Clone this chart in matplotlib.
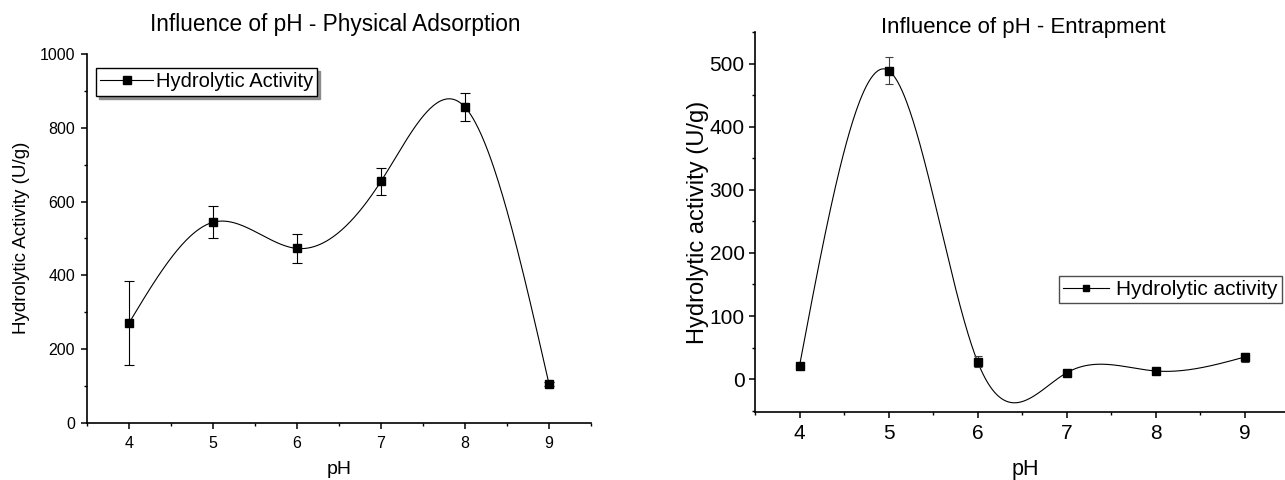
import numpy as np
import matplotlib
matplotlib.use('Agg')
import matplotlib.pyplot as plt
from matplotlib.lines import Line2D
from matplotlib.ticker import MultipleLocator

plt.rcParams.update({
    'font.family': ['Liberation Sans', 'DejaVu Sans'],
    'axes.linewidth': 1.2,
    'xtick.direction': 'out',
    'ytick.direction': 'out',
    'xtick.major.size': 4.5,
    'ytick.major.size': 4.5,
    'xtick.minor.size': 2.5,
    'ytick.minor.size': 2.5,
    'xtick.major.width': 1.1,
    'ytick.major.width': 1.1,
    'xtick.minor.width': 1.0,
    'ytick.minor.width': 1.0,
})

# ─── data ────────────────────────────────────────────────────────────────────
ph = [4, 5, 6, 7, 8, 9]

ads_activity = [271, 544, 473, 655, 856, 106]
ads_err = [113, 44, 39, 37, 37, 5]

ent_activity = [21, 489, 28, 10, 13, 35]
ent_err = [3, 21, 9, 3, 3, 7]


def natural_spline(x, y, n=400):
    # natural cubic spline, like Origin's "Spline" connect
    x = np.asarray(x, float)
    y = np.asarray(y, float)
    h = np.diff(x)
    nn = len(x)
    A = np.zeros((nn, nn))
    r = np.zeros(nn)
    A[0, 0] = A[-1, -1] = 1.0
    for i in range(1, nn - 1):
        A[i, i - 1] = h[i - 1]
        A[i, i] = 2 * (h[i - 1] + h[i])
        A[i, i + 1] = h[i]
        r[i] = 6 * ((y[i + 1] - y[i]) / h[i] - (y[i] - y[i - 1]) / h[i - 1])
    M = np.linalg.solve(A, r)
    xs = np.linspace(x[0], x[-1], n)
    idx = np.clip(np.searchsorted(x, xs) - 1, 0, nn - 2)
    x0, x1 = x[idx], x[idx + 1]
    hh = x1 - x0
    a = (x1 - xs) / hh
    b = (xs - x0) / hh
    ys = a * y[idx] + b * y[idx + 1] + ((a**3 - a) * M[idx] + (b**3 - b) * M[idx + 1]) * hh**2 / 6
    return xs, ys


W, H = 1285, 480
fig = plt.figure(figsize=(W / 100, H / 100), dpi=100)

# ─── left: physical adsorption ───────────────────────────────────────────────
ax1 = fig.add_axes([87 / W, (H - 423) / H, 504 / W, 369 / H])
xs, ys = natural_spline(ph, ads_activity)
ax1.plot(xs, ys, color='k', lw=0.8)
ax1.errorbar(ph, ads_activity, yerr=ads_err, fmt='none', ecolor='k',
             elinewidth=0.8, capsize=3.5, capthick=0.8)
ax1.plot(ph, ads_activity, 's', color='k', ms=6.2, ls='none')
ax1.set_xlim(3.5, 9.5)
ax1.set_ylim(0, 1000)
ax1.xaxis.set_major_locator(MultipleLocator(1))
ax1.xaxis.set_minor_locator(MultipleLocator(0.5))
ax1.yaxis.set_major_locator(MultipleLocator(200))
ax1.yaxis.set_minor_locator(MultipleLocator(100))
ax1.tick_params(labelsize=11.5)
ax1.tick_params(axis='x', pad=5)
ax1.tick_params(axis='y', pad=4)
for s in ('top', 'right'):
    ax1.spines[s].set_visible(False)

h1 = Line2D([], [], color='k', lw=0.8, marker='s', ms=6)
ax1.legend([h1], ['Hydrolytic Activity'], loc='upper left',
           bbox_to_anchor=(96 / W, 1 - 68 / H), bbox_transform=fig.transFigure,
           borderaxespad=0, fontsize=14.5, handlelength=2.6, handletextpad=0.15,
           borderpad=0.22, fancybox=False, framealpha=1, edgecolor='k',
           shadow={'color': '0.55', 'alpha': 1})

fig.text(335, H - 24, 'Influence of pH - Physical Adsorption', transform=None,
         ha='center', va='center', fontsize=16.3)
fig.text(22, H - 238, 'Hydrolytic Activity (U/g)', transform=None,
         ha='center', va='center', rotation=90, fontsize=13.5)
fig.text(339, H - 469, 'pH', transform=None, ha='center', va='center', fontsize=14)

# ─── right: entrapment ───────────────────────────────────────────────────────
ax2 = fig.add_axes([755 / W, (H - 412) / H, 534 / W, 380 / H])
xs, ys = natural_spline(ph, ent_activity)
ax2.plot(xs, ys, color='k', lw=0.8)
ax2.errorbar(ph, ent_activity, yerr=ent_err, fmt='none', ecolor='0.25',
             elinewidth=0.8, capsize=3, capthick=0.8)
ax2.plot(ph, ent_activity, 's', color='k', ms=5.5, ls='none')
ax2.set_xlim(3.5, 9.5)
ax2.set_ylim(-52, 550)
ax2.xaxis.set_major_locator(MultipleLocator(1))
ax2.xaxis.set_minor_locator(MultipleLocator(0.5))
ax2.yaxis.set_major_locator(MultipleLocator(100))
ax2.yaxis.set_minor_locator(MultipleLocator(50))
ax2.tick_params(labelsize=15)
ax2.tick_params(axis='x', pad=4)
ax2.tick_params(axis='y', pad=3)
for s in ('top', 'right'):
    ax2.spines[s].set_visible(False)

h2 = Line2D([], [], color='k', lw=0.8, marker='s', ms=5)
ax2.legend([h2], ['Hydrolytic activity'], loc='upper left',
           bbox_to_anchor=(1059 / W, 1 - 276 / H), bbox_transform=fig.transFigure,
           borderaxespad=0, fontsize=15, handlelength=2.2, handletextpad=0.35,
           borderpad=0.2, fancybox=False, framealpha=1, edgecolor='0.3')

fig.text(1023, H - 27, 'Influence of pH - Entrapment', transform=None,
         ha='center', va='center', fontsize=16)
fig.text(698, H - 222, 'Hydrolytic activity (U/g)', transform=None,
         ha='center', va='center', rotation=90, fontsize=17)
fig.text(1025, H - 469, 'pH', transform=None, ha='center', va='center', fontsize=15.5)

fig.savefig('out.png', dpi=100)
